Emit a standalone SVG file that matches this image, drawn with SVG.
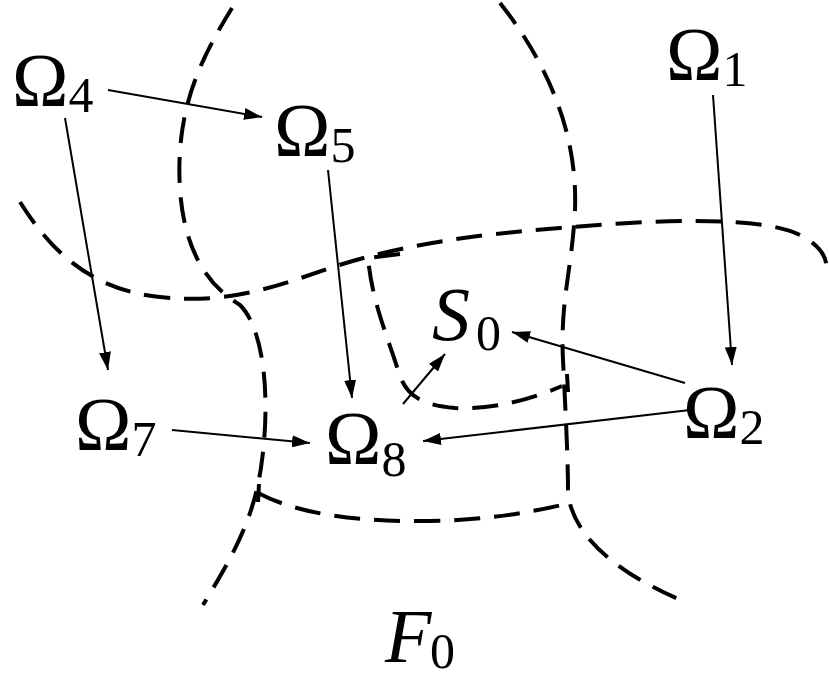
<svg xmlns="http://www.w3.org/2000/svg" width="830" height="685" viewBox="0 0 830 685">
<defs>
<marker id="a" viewBox="0 0 18 12" refX="18" refY="6" markerWidth="18" markerHeight="12" markerUnits="userSpaceOnUse" orient="auto"><path d="M0,0 L18,6 L0,12 z" fill="#000"/></marker>
<style>
.d{fill:none;stroke:#000;stroke-width:4;stroke-dasharray:26,14}
.c{stroke:#000;stroke-width:2;fill:none;marker-end:url(#a)}
text{font-family:"Liberation Serif",serif;font-size:76px}
.s{font-size:50px}
</style>
</defs>
<rect width="830" height="685" fill="#fff"/>
<g id="regions">
<path class="d" d="M232,8 C200,60 175,110 180,190 C185,260 215,290 240,305 C265,330 270,400 262,460 C255,520 230,560 203,605"/>
<path class="d" d="M500,3 C545,60 578,130 575,210 C572,270 560,300 563,360 C566,420 568,460 568,490 C570,540 630,580 688,603"/>
<path class="d" d="M20,202 C50,250 90,290 160,297 C230,305 280,285 330,268 C400,245 470,235 560,228 C650,220 760,215 800,235 C820,245 828,258 826,270"/>
<path class="d" d="M400,254 L368,258 C372,300 385,330 398,370 C405,395 420,405 455,408 C490,410 530,400 562,386"/>
<path class="d" d="M258,493 C300,515 360,522 430,521 C490,520 530,512 562,505"/>
<path d="M259,484 L258,502 M567,374 L568,392" stroke="#000" stroke-width="4"/>
</g>
<g id="connectors">
<line class="c" x1="108" y1="90" x2="262" y2="117"/>
<line class="c" x1="65" y1="118" x2="108" y2="370"/>
<line class="c" x1="713" y1="95" x2="732" y2="365"/>
<line class="c" x1="328" y1="170" x2="352" y2="398"/>
<line class="c" x1="172" y1="430" x2="310" y2="443"/>
<line class="c" x1="685" y1="383" x2="512" y2="332"/>
<line class="c" x1="690" y1="410" x2="423" y2="441"/>
<line class="c" x1="403" y1="404" x2="445" y2="354"/>
</g>
<g id="n4"><text x="12" y="106">Ω<tspan class="s" dy="6">4</tspan></text></g>
<g id="n5"><text x="274" y="156">Ω<tspan class="s" dy="6">5</tspan></text></g>
<g id="n1"><text x="666" y="80">Ω<tspan class="s" dy="6">1</tspan></text></g>
<g id="s0"><text x="432" y="340" font-style="italic">S</text><text x="476" y="350" class="s">0</text></g>
<g id="n2"><text x="683" y="438">Ω<tspan class="s" dy="6">2</tspan></text></g>
<g id="n7"><text x="75" y="450">Ω<tspan class="s" dy="6">7</tspan></text></g>
<g id="n8"><text x="325" y="464">Ω<tspan class="s" dy="12">8</tspan></text></g>
<g id="f0"><text x="385" y="662" font-style="italic">F</text><text x="430" y="668" class="s">0</text></g>
</svg>
